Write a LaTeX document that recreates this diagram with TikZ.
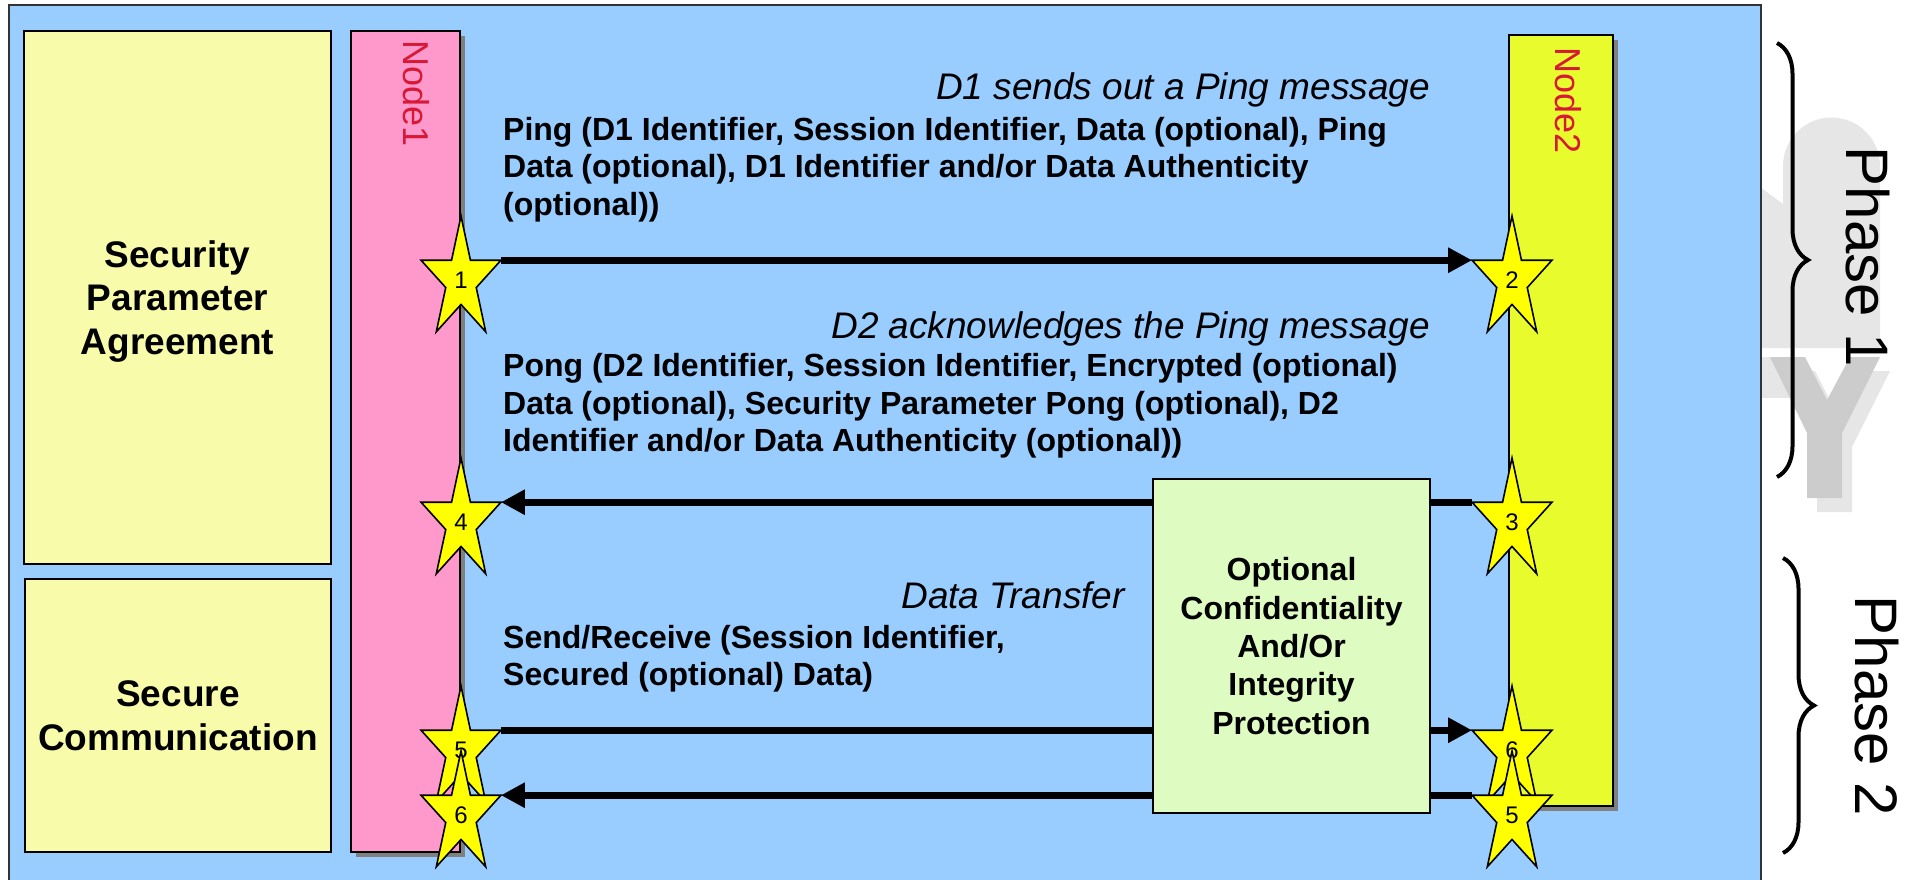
\documentclass[tikz,border=0pt]{standalone}
\usepackage{fontspec}
\setmainfont{Liberation Sans}
\usetikzlibrary{arrows.meta,shadows,decorations.pathreplacing}

\definecolor{panelblue}{RGB}{153,204,255}
\definecolor{paleyellow}{RGB}{248,251,170}
\definecolor{lifepink}{RGB}{255,153,204}
\definecolor{lifelime}{RGB}{232,251,45}
\definecolor{palegreen}{RGB}{222,252,194}
\definecolor{tagred}{RGB}{215,25,55}
\definecolor{starface}{RGB}{255,255,0}
\definecolor{shadowgray}{RGB}{128,128,128}
\definecolor{wmlight}{RGB}{230,230,230}
\definecolor{wmdark}{RGB}{204,204,204}

\tikzset{
  box/.style={draw=black, line width=1.8pt, inner sep=0pt, outer sep=0pt, anchor=north west},
  lifeline/.style={box, drop shadow={shadow xshift=5pt, shadow yshift=-5pt, fill=shadowgray, opacity=1}},
  sidebox/.style={box, fill=paleyellow, align=center, text depth=0pt, font=\bfseries\fontsize{37}{43.3}\selectfont},
  guardbox/.style={box, fill=palegreen, align=center, font=\bfseries\fontsize{32}{38.3}\selectfont},
  nodetag/.style={text=tagred, rotate=-90, inner sep=0pt, font=\fontsize{36}{40}\selectfont},
  heading/.style={anchor=base east, inner sep=0pt, font=\itshape\fontsize{37}{44}\selectfont},
  msgtext/.style={anchor=north west, inner sep=0pt, align=left, font=\bfseries\fontsize{32}{37.5}\selectfont},
  msg/.style={line width=7pt, -{Triangle[length=24pt,width=24pt]}},
  starlabel/.style={inner sep=0pt, font=\fontsize{24}{24}\selectfont},
  phaselabel/.style={rotate=-90, inner sep=0pt, font=\fontsize{60}{66}\selectfont},
  bracepen/.style={line width=4pt, decorate, decoration={brace, amplitude=31pt}},
  pics/starmark/.style={code={
    \filldraw[fill=starface, draw=black, line width=1.6pt, line join=miter]
      (90:42pt and 64pt) -- (126:16.04pt and 24.45pt) -- (162:42pt and 64pt)
      -- (198:16.04pt and 24.45pt) -- (234:42pt and 64pt) -- (270:16.04pt and 24.45pt)
      -- (306:42pt and 64pt) -- (342:16.04pt and 24.45pt) -- (18:42pt and 64pt)
      -- (54:16.04pt and 24.45pt) -- cycle;
    \coordinate (-west) at (162:42pt and 64pt);
    \coordinate (-east) at (18:42pt and 64pt);
    \node[starlabel] (-num) at (0,0) {#1};
  }}
}

\begin{document}
\begin{tikzpicture}[x=1pt,y=1pt]
\useasboundingbox (0,0) rectangle (1911,-880);

% faint watermark letters behind the panel edge
\fill[wmlight] (1783,-348) -- (1783,-166) arc[start angle=180, end angle=0, radius=48.5] -- (1880,-348) -- cycle;
\fill[wmlight] (1760,-187) -- (1787,-207) -- (1787,-348) -- (1760,-348) -- cycle;
\fill[wmlight] (1760,-357) rectangle (1790,-398);
\fill[wmlight] (1780,-371) -- (1815,-371) -- (1837,-414) -- (1860,-371) -- (1890,-371)
  -- (1852,-447) -- (1852,-512) -- (1817,-512) -- (1817,-447) -- cycle;
\fill[wmdark] (1770,-357) -- (1805,-357) -- (1827,-400) -- (1850,-357) -- (1880,-357)
  -- (1842,-433) -- (1842,-498) -- (1807,-498) -- (1807,-433) -- cycle;

% main panel
\node[anchor=north west, draw=black!80, line width=1.5pt, fill=panelblue,
      minimum width=1752, minimum height=900, inner sep=0pt, outer sep=0pt] (panel) at (9,-5) {};

% phase boxes on the left
\node[sidebox, minimum width=307, minimum height=533] (spa) at (24,-31)
  {Security\\Parameter\\Agreement};
\node[sidebox, minimum width=306, minimum height=273] (sc) at (25,-579)
  {Secure\\Communication};

% the two lifelines
\node[lifeline, fill=lifepink, minimum width=109, minimum height=821] (life1) at (351,-31) {};
\node[lifeline, fill=lifelime, minimum width=104, minimum height=771] (life2) at (1509,-35) {};
\node[nodetag] (tag1) at (416,-94) {Node1};
\node[nodetag] (tag2) at (1568,-101) {Node2};

% message descriptions
\node[heading] (h1) at (1430,-100) {D1 sends out a Ping message};
\node[msgtext] (t1) at (503,-117)
  {Ping (D1 Identifier, Session Identifier, Data (optional), Ping\\
   Data (optional), D1 Identifier and/or Data Authenticity\\
   (optional))};
\node[heading] (h2) at (1430,-338) {D2 acknowledges the Ping message};
\node[msgtext] (t2) at (503,-353.5)
  {Pong (D2 Identifier, Session Identifier, Encrypted (optional)\\
   Data (optional), Security Parameter Pong (optional), D2\\
   Identifier and/or Data Authenticity (optional))};
\node[heading] (h3) at (1125,-608.5) {Data Transfer};
\node[msgtext] (t3) at (503,-625)
  {Send/Receive (Session Identifier,\\
   Secured (optional) Data)};

% step markers
\pic (s1) at (461,-280) {starmark=1};
\pic (s2) at (1512,-280) {starmark=2};
\pic (s3) at (1512,-522) {starmark=3};
\pic (s4) at (461,-522) {starmark=4};
\pic (s5a) at (461,-750) {starmark=5};
\pic (s6a) at (461,-815) {starmark=6};
\pic (s6b) at (1512,-750) {starmark=6};
\pic (s5b) at (1512,-815) {starmark=5};

% messages
\draw[msg] (s1-east) -- (s2-west);
\draw[msg] (s3-west) -- (s4-east);
\draw[msg] (s5a-east) -- (s6b-west);
\draw[msg] (s5b-west) -- (s6a-east);

% protection block over the exchanged messages
\node[guardbox, minimum width=277, minimum height=334] (guard) at (1153,-479)
  {Optional\\Confidentiality\\And/Or\\Integrity\\Protection};

% phase braces
\coordinate (p1top) at (1777,-43);
\coordinate (p1bot) at (1777,-477);
\coordinate (p2top) at (1783,-558);
\coordinate (p2bot) at (1783,-853);
\draw[bracepen] (p1top) -- (p1bot);
\draw[bracepen] (p2top) -- (p2bot);
\node[phaselabel] (ph1) at (1868,-257) {Phase 1};
\node[phaselabel] (ph2) at (1877,-706) {Phase 2};
\end{tikzpicture}
\end{document}
